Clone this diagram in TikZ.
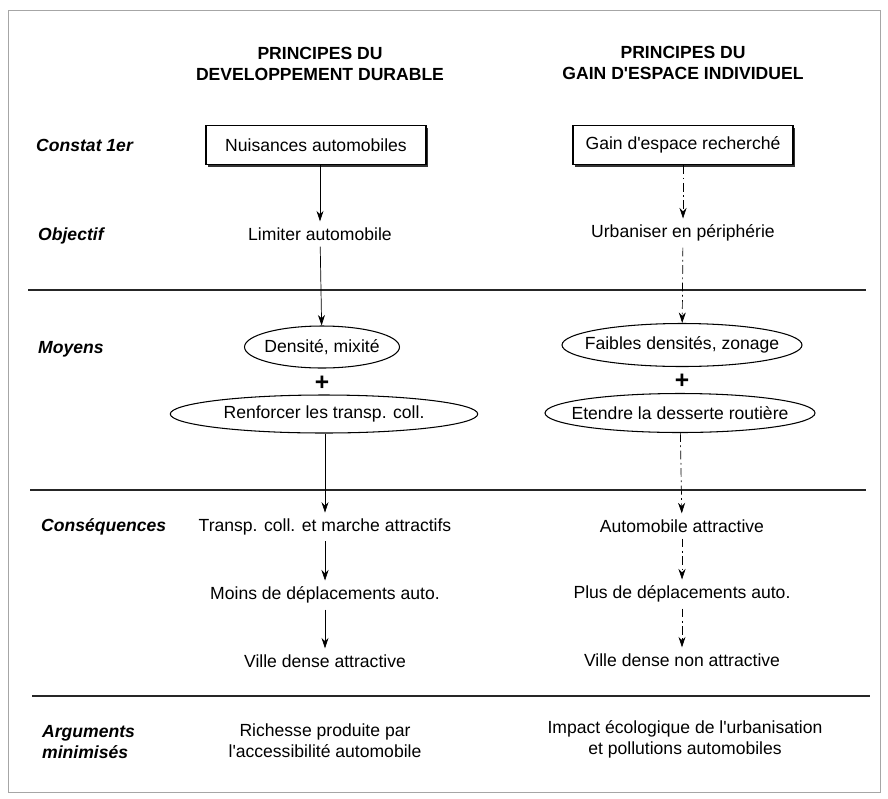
\documentclass[tikz,border=0pt]{standalone}
\usepackage{fontspec}
\setmainfont{Liberation Sans}[Ligatures=TeXOff]
\usetikzlibrary{arrows.meta,shapes.geometric,shadows}
\begin{document}
\begin{tikzpicture}[x=0.02cm, y=-0.02cm,
    font=\fontsize{10}{12}\selectfont,
    titre/.style={font=\fontsize{10}{12}\selectfont\bfseries, align=center},
    rubrique/.style={anchor=west, font=\fontsize{10}{12}\selectfont\bfseries\itshape, align=left},
    cadre/.style={draw, thick, fill=white, minimum width=4.4cm, minimum height=0.78cm,
        drop shadow={shadow xshift=1.2pt, shadow yshift=-1.2pt, opacity=1, fill=black!80}},
    moyen/.style={draw, semithick, ellipse, inner xsep=-10pt, inner ysep=1pt},
    texte/.style={align=center},
    signe/.style={font=\fontsize{14}{14}\selectfont\bfseries, inner sep=0pt},
    plein/.style={-{Stealth[length=6pt,width=4pt]}, thin},
    pointille/.style={-{Stealth[length=6pt,width=4pt]}, thin, dash pattern=on 5pt off 2pt on 1pt off 2pt},
    trait/.style={line width=1.3pt, black!85}]
  \useasboundingbox (0,0) rectangle (888,798);
  \draw[black!35, thin] (8,10) rectangle (880,792);

  % titres des colonnes
  \node[titre] (dd) at (320,64) {PRINCIPES DU\\DEVELOPPEMENT DURABLE};
  \node[titre] (ge) at (683,63) {PRINCIPES DU\\GAIN D'ESPACE INDIVIDUEL};

  % rubriques
  \node[rubrique] (constat) at (30,145) {Constat 1er};
  \node[rubrique] (objectif) at (32,236) {Objectif};
  \node[rubrique] (moyens) at (32,349) {Moyens};
  \node[rubrique] (conseq) at (35,527) {Conséquences};
  \node[rubrique] (argu) at (36,742) {Arguments\\minimisés};

  % separations
  \draw[trait] (28,290) -- (866,290);
  \draw[trait] (30,490) -- (866,490);
  \draw[trait] (32,696) -- (870,696);

  % colonne gauche
  \node[cadre] (nuis) at (316,145) {Nuisances automobiles};
  \node[texte] (limiter) at (320,234) {Limiter automobile};
  \node[moyen, minimum width=3.1cm, minimum height=0.84cm] (densite) at (322,347) {Densité, mixité};
  \node[signe] (plusg) at (322,383) {+};
  \node[moyen, minimum width=6.15cm, minimum height=0.76cm] (renforcer) at (324,414) {Renforcer les transp. coll.};
  \node[texte] (transp) at (325,527) {Transp. coll. et marche attractifs};
  \node[texte] (moins) at (325,595) {Moins de déplacements auto.};
  \node[texte] (villeg) at (325,661) {Ville dense attractive};
  \node[texte] (richesse) at (325,741) {Richesse produite par\\l'accessibilité automobile};

  \draw[plein] (nuis.south -| limiter) -- (limiter);
  \draw[plein] (limiter) -- (densite);
  \draw[plein] (renforcer.south -| transp) -- (transp);
  \draw[plein] (transp) -- (moins);
  \draw[plein] (moins) -- (villeg);

  % colonne droite
  \node[cadre] (gain) at (683,145) {Gain d'espace recherché};
  \node[texte] (urba) at (683,233) {Urbaniser en périphérie};
  \node[moyen, minimum width=4.8cm, minimum height=0.86cm] (faibles) at (682,345) {Faibles densités, zonage};
  \node[signe] (plusd) at (682,381) {+};
  \node[moyen, minimum width=5.4cm, minimum height=0.78cm] (etendre) at (680,413) {Etendre la desserte routière};
  \node[texte] (autoattr) at (682,526) {Automobile attractive};
  \node[texte] (plus) at (682,594) {Plus de déplacements auto.};
  \node[texte] (villed) at (682,660) {Ville dense non attractive};
  \node[texte] (impact) at (685,739) {Impact écologique de l'urbanisation\\et pollutions automobiles};

  \draw[pointille] (gain) -- (urba);
  \draw[pointille] (urba) -- (faibles);
  \draw[pointille] (etendre) -- (autoattr);
  \draw[pointille] (autoattr) -- (plus);
  \draw[pointille] (plus) -- (villed);
\end{tikzpicture}
\end{document}
